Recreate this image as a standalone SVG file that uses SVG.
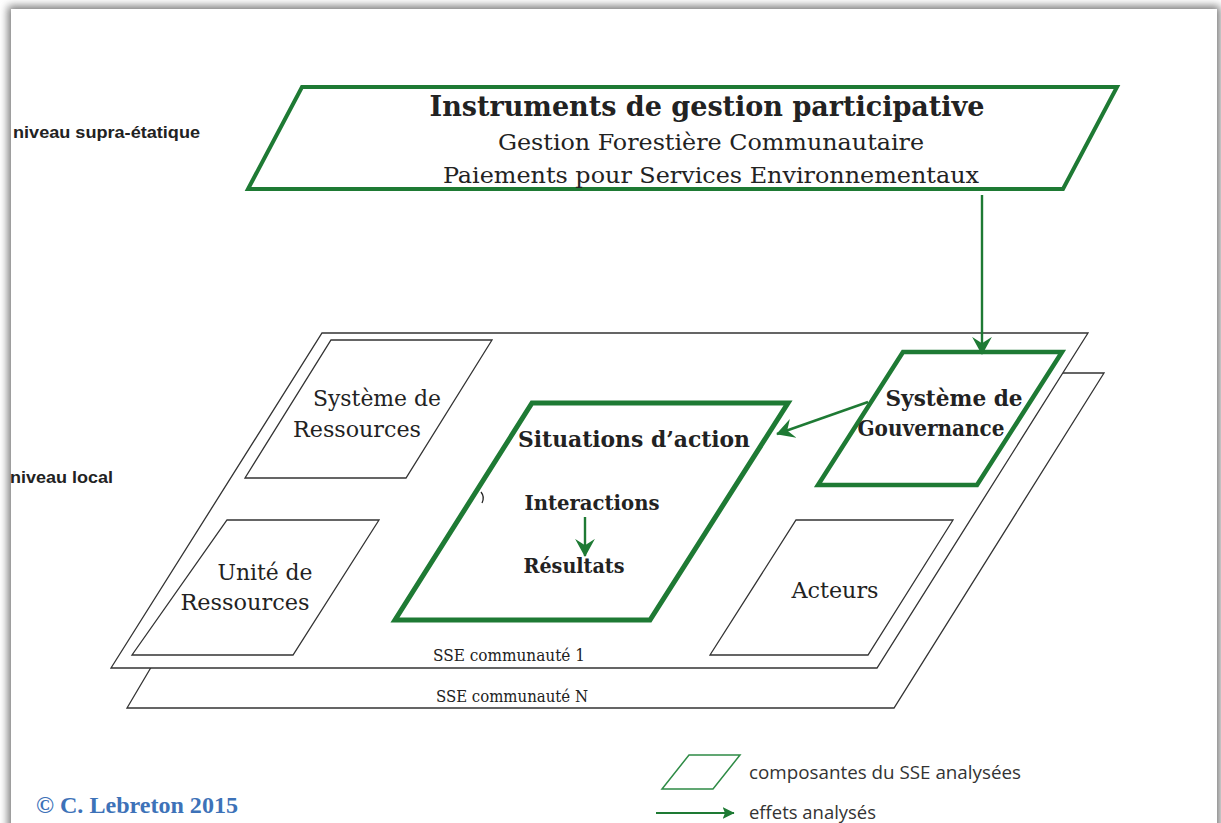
<svg xmlns="http://www.w3.org/2000/svg" width="1221" height="823" viewBox="0 0 1221 823">
<defs>
<filter id="sh" x="-5%" y="-5%" width="110%" height="110%"><feGaussianBlur stdDeviation="4"/></filter>
<marker id="ahs" viewBox="0 0 10 12" refX="9.5" refY="6" markerWidth="18" markerHeight="21.6" orient="auto" markerUnits="userSpaceOnUse"><path d="M0,0.5 L10,6 L0,11.5 L3.5,6 Z" fill="#1e7a34"/></marker>
<marker id="ahl" viewBox="0 0 10 12" refX="9.5" refY="6" markerWidth="12" markerHeight="14.4" orient="auto" markerUnits="userSpaceOnUse"><path d="M0,1 L10,6 L0,11 L2,6 Z" fill="#1e7a34"/></marker>
</defs>
<style>
.plane{fill:#fff;stroke:#333;stroke-width:1.3}
.box{fill:#fff;stroke:#333;stroke-width:1.3}
.gbox{fill:#fff;stroke:#1e7a34;stroke-width:4.5;stroke-linejoin:miter}
.conn{fill:none;stroke:#1e7a34;stroke-width:2.4}
.t{font-family:"DejaVu Serif Condensed","DejaVu Serif",serif;fill:#222}
.tb{font-family:"DejaVu Serif Condensed","DejaVu Serif",serif;font-weight:bold;fill:#222}
.lv{font-family:"Liberation Sans",Arial,sans-serif;font-weight:bold;font-size:17px;fill:#222}
.lg{font-family:"Open Sans","Noto Sans",sans-serif;font-size:18.5px;fill:#333}
</style>
<rect width="1221" height="823" fill="#fff"/>
<rect x="8" y="6" width="1212" height="830" fill="#777" filter="url(#sh)"/>
<rect x="11" y="9" width="1206" height="820" fill="#fff"/>

<g id="level-labels">
<text class="lv" x="13" y="138" textLength="187" lengthAdjust="spacingAndGlyphs">niveau supra-étatique</text>
<text class="lv" x="10" y="483" textLength="103" lengthAdjust="spacingAndGlyphs">niveau local</text>
</g>

<g id="plane-N">
<polygon class="plane" points="325,373 1104,373 894,708 127,708"/>
<text class="t" x="512" y="702" font-size="17" text-anchor="middle" textLength="152" lengthAdjust="spacingAndGlyphs">SSE communauté N</text>
</g>

<g id="plane-1">
<polygon class="plane" points="322,333 1088,333 877,668 111,668"/>
<text class="t" x="509" y="661" font-size="17" text-anchor="middle" textLength="152" lengthAdjust="spacingAndGlyphs">SSE communauté 1</text>
</g>

<g id="instruments">
<polygon class="gbox" points="302,87 1117,87 1063,189 248,189" style="stroke-width:4"/>
<text class="tb" x="707" y="116" font-size="27" text-anchor="middle" textLength="555" lengthAdjust="spacingAndGlyphs">Instruments de gestion participative</text>
<text class="t" x="711" y="150" font-size="22" text-anchor="middle" textLength="426" lengthAdjust="spacingAndGlyphs">Gestion Forestière Communautaire</text>
<text class="t" x="711" y="183" font-size="22" text-anchor="middle" textLength="536" lengthAdjust="spacingAndGlyphs">Paiements pour Services Environnementaux</text>
</g>

<g id="systeme-ressources">
<polygon class="box" points="331,340 492,340 406,478 245,478"/>
<text class="t" x="377" y="406" font-size="22" text-anchor="middle" textLength="128" lengthAdjust="spacingAndGlyphs">Système de</text>
<text class="t" x="357" y="437" font-size="22" text-anchor="middle" textLength="128" lengthAdjust="spacingAndGlyphs">Ressources</text>
</g>

<g id="unite-ressources">
<polygon class="box" points="227,520 379,520 293,655 132,655"/>
<text class="t" x="265" y="580" font-size="22" text-anchor="middle" textLength="95" lengthAdjust="spacingAndGlyphs">Unité de</text>
<text class="t" x="245" y="610" font-size="22" text-anchor="middle" textLength="129" lengthAdjust="spacingAndGlyphs">Ressources</text>
</g>

<g id="situations-action">
<polygon class="gbox" points="532,403 788,403 650,620 395,620" style="stroke-width:5"/>
<text class="tb" x="634" y="447" font-size="22" text-anchor="middle" textLength="232" lengthAdjust="spacingAndGlyphs">Situations d’action</text>
<text class="tb" x="592" y="510" font-size="20" text-anchor="middle" textLength="135" lengthAdjust="spacingAndGlyphs">Interactions</text>
<text class="tb" x="574" y="573" font-size="20" text-anchor="middle" textLength="101" lengthAdjust="spacingAndGlyphs">Résultats</text>
<path d="M481,492 Q485,497 482,503" fill="none" stroke="#222" stroke-width="1.3"/>
</g>

<g id="gouvernance">
<polygon class="gbox" points="903,352 1062,352 977,485 818,485"/>
<text class="tb" x="954" y="406" font-size="22" text-anchor="middle" textLength="137" lengthAdjust="spacingAndGlyphs">Système de</text>
<text class="tb" x="931" y="436" font-size="22" text-anchor="middle" textLength="147" lengthAdjust="spacingAndGlyphs">Gouvernance</text>
</g>

<g id="acteurs">
<polygon class="box" points="796,520 953,520 868,655 710,655"/>
<text class="t" x="835" y="598" font-size="22" text-anchor="middle" textLength="87" lengthAdjust="spacingAndGlyphs">Acteurs</text>
</g>

<g id="connectors">
<line class="conn" x1="982" y1="195" x2="982" y2="354" marker-end="url(#ahs)"/>
<line class="conn" x1="868" y1="402" x2="777" y2="434" marker-end="url(#ahs)"/>
<line class="conn" x1="585" y1="517" x2="585" y2="556" marker-end="url(#ahs)"/>
</g>

<g id="legend">
<polygon points="689,755 740,755 713,789 662,789" fill="none" stroke="#2e8b45" stroke-width="1.5"/>
<text class="lg" x="749" y="779" textLength="272" lengthAdjust="spacingAndGlyphs">composantes du SSE analysées</text>
<line x1="656" y1="813" x2="734" y2="813" stroke="#1e7a34" stroke-width="2" marker-end="url(#ahl)"/>
<text class="lg" x="749" y="819" textLength="127" lengthAdjust="spacingAndGlyphs">effets analysés</text>
</g>

<g id="credit">
<text x="36" y="813" font-family="'Liberation Serif','Times New Roman',serif" font-weight="bold" font-size="24" fill="#3d72b8" textLength="202" lengthAdjust="spacingAndGlyphs">© C. Lebreton 2015</text>
</g>
</svg>
